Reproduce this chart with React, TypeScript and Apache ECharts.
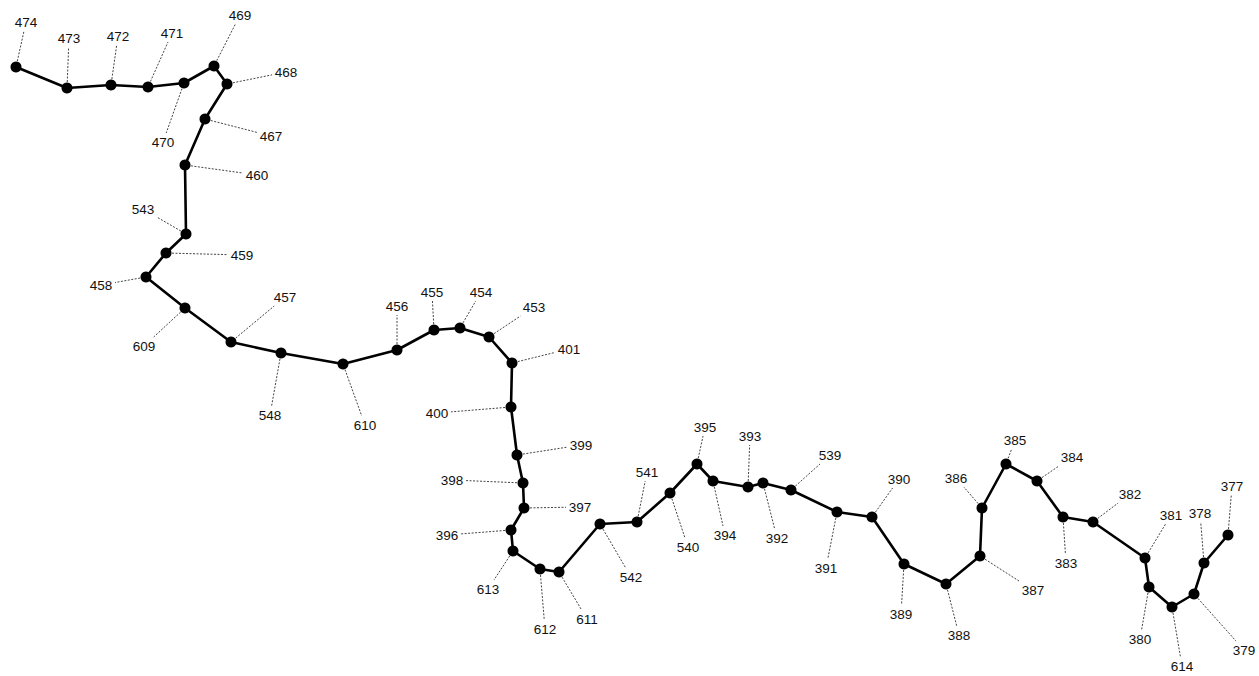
import React, { useEffect, useRef } from "react";
import * as echarts from "echarts";

// Chain of numbered stations, in drawing order
const names = [
  "474", "473", "472", "471", "470", "469", "468", "467", "460", "543",
  "459", "458", "609", "457", "548", "610", "456", "455", "454", "453",
  "401", "400", "399", "398", "397", "396", "613", "612", "611", "542",
  "541", "540", "395", "394", "393", "392", "539", "391", "390", "389",
  "388", "387", "386", "385", "384", "383", "382", "381", "380", "614",
  "379", "378", "377",
];
const pointX = [
  16, 67, 111, 148, 184, 214, 227, 205, 185, 186,
  166, 146, 185, 231, 281, 343, 397, 434, 460, 489,
  512, 511, 517, 523, 524, 511, 513, 540, 559, 600,
  637, 670, 697, 713, 748, 763, 791, 837, 872, 904,
  946, 980, 982, 1006, 1037, 1063, 1093, 1145, 1149, 1172,
  1194, 1204, 1228,
];
const pointY = [
  67, 88, 85, 87, 83, 66, 84, 119, 165, 234,
  253, 277, 308, 342, 353, 364, 350, 330, 328, 337,
  363, 407, 455, 483, 508, 530, 551, 569, 572, 524,
  522, 493, 464, 481, 487, 483, 490, 512, 517, 564,
  584, 556, 508, 464, 481, 517, 522, 558, 587, 607,
  594, 563, 535,
];
const labelX = [
  26, 69, 118, 172, 163, 240, 286, 271, 257, 143,
  242, 101, 144, 285, 270, 365, 397, 432, 481, 534,
  569, 437, 581, 452, 580, 447, 488, 545, 587, 631,
  647, 688, 705, 725, 750, 777, 830, 826, 899, 901,
  959, 1033, 956, 1015, 1072, 1066, 1130, 1171, 1140, 1182,
  1244, 1200, 1232,
];
const labelY = [
  22, 38, 36, 33, 142, 15, 72, 136, 175, 209,
  255, 285, 346, 297, 415, 425, 306, 292, 292, 307,
  349, 413, 445, 480, 507, 535, 589, 629, 619, 577,
  472, 547, 427, 535, 436, 538, 455, 568, 479, 614,
  635, 590, 478, 440, 457, 563, 494, 515, 639, 666,
  650, 513, 486,
];

export default function App() {
  const ref = useRef<HTMLDivElement>(null);
  useEffect(() => {
    if (!ref.current) return;
    const chart = echarts.init(ref.current, undefined, { renderer: "svg" });
    const lineData = names.map((n, i) => [pointX[i], pointY[i]]);
    const leaderData = names.map((n, i) => [pointX[i], pointY[i], labelX[i], labelY[i], n]);
    chart.setOption({
      animation: false,
      backgroundColor: "#ffffff",
      grid: { left: 0, right: 0, top: 0, bottom: 0 },
      xAxis: { type: "value", min: 0, max: 1259, show: false },
      yAxis: { type: "value", min: 0, max: 676, inverse: true, show: false },
      series: [
        {
          type: "custom",
          data: leaderData,
          z: 1,
          silent: true,
          clip: false,
          renderItem: (params: any, api: any) => {
            const p = api.coord([api.value(0), api.value(1)]);
            const l = api.coord([api.value(2), api.value(3)]);
            const dx = l[0] - p[0];
            const dy = l[1] - p[1];
            const len = Math.sqrt(dx * dx + dy * dy) || 1;
            const ux = dx / len;
            const uy = dy / len;
            const hw = 14;
            const hh = 9;
            const tx = Math.abs(ux) > 1e-6 ? hw / Math.abs(ux) : Infinity;
            const ty = Math.abs(uy) > 1e-6 ? hh / Math.abs(uy) : Infinity;
            const tEnd = len - Math.min(tx, ty);
            const start = 6;
            const children: any[] = [];
            if (tEnd > start + 2) {
              children.push({
                type: "line",
                shape: {
                  x1: p[0] + ux * start,
                  y1: p[1] + uy * start,
                  x2: p[0] + ux * tEnd,
                  y2: p[1] + uy * tEnd,
                },
                style: { stroke: "#444444", lineWidth: 1, lineDash: [2, 1.5] },
              });
            }
            children.push({
              type: "text",
              x: l[0],
              y: l[1],
              style: {
                text: String(api.value(4)),
                fill: "#111111",
                font: "13.5px 'Liberation Sans', Arial, sans-serif",
                align: "center",
                verticalAlign: "middle",
              },
            });
            return { type: "group", children };
          },
          encode: { x: 0, y: 1 },
        },
        {
          type: "line",
          data: lineData,
          z: 3,
          symbol: "circle",
          symbolSize: 11,
          itemStyle: { color: "#000000" },
          lineStyle: { color: "#000000", width: 2.6 },
          silent: true,
        },
      ],
    });
    return () => chart.dispose();
  }, []);
  return (
    <div
      ref={ref}
      style={{ position: "absolute", left: 0, top: 0, width: 1259, height: 676 }}
    />
  );
}
